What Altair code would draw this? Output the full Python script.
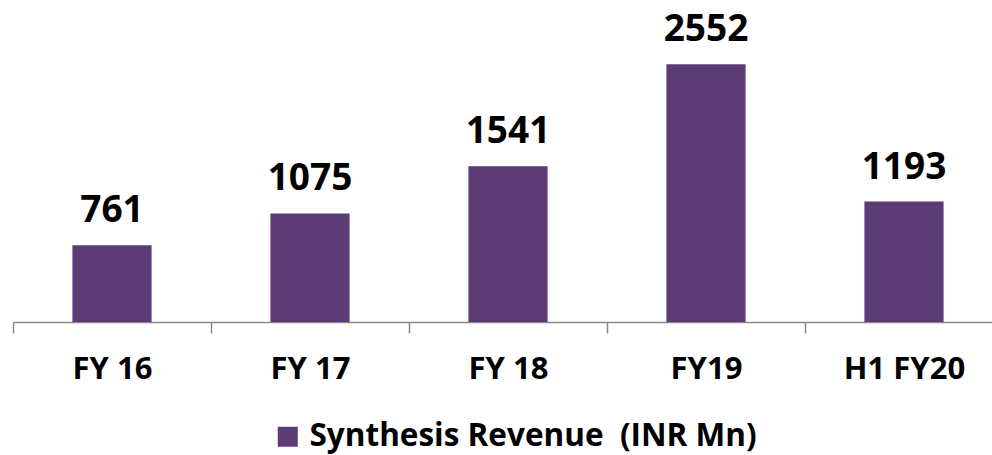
import altair as alt
import pandas as pd

categories = ["FY 16", "FY 17", "FY 18", "FY19", "H1 FY20"]
values = [761, 1075, 1541, 2552, 1193]
series = "Synthesis Revenue \u00a0(INR Mn)"

df = pd.DataFrame({"cat": categories, "val": values, "series": [series] * len(categories)})

FONT = "Open Sans"
COLOR = "#5B3C74"

x = alt.X("cat:N", sort=categories, title=None,
          scale=alt.Scale(range=[0, 990], paddingInner=0, paddingOuter=0),
          axis=alt.Axis(labelAngle=0, labelFont=FONT, labelFontSize=31, labelFontWeight="bold",
                        labelColor="#000000", labelPadding=21, tickBand="extent",
                        tickSize=11, tickColor="#8A8A8A", tickWidth=1.5,
                        domainColor="#8A8A8A", domainWidth=1.5))
y = alt.Y("val:Q", title=None, scale=alt.Scale(domain=[0, 3000]), axis=None)

bars = alt.Chart(df).mark_bar(width=alt.RelativeBandSize(0.4), color=COLOR).encode(
    x=x, y=y,
    color=alt.Color("series:N", scale=alt.Scale(range=[COLOR]),
                    legend=alt.Legend(title=None, orient="none", legendX=259, legendY=402,
                                      symbolType="square", symbolSize=400, symbolStrokeWidth=0,
                                      labelFont=FONT, labelFontSize=31.5, labelFontWeight="bold",
                                      labelColor="#000000", padding=0, labelLimit=700,
                                      labelOffset=6, symbolOffset=0)))
labels = alt.Chart(df).mark_text(font=FONT, fontSize=37, fontWeight="bold", color="#000000",
                                 baseline="alphabetic", dy=-23).encode(
    x=alt.X("cat:N", sort=categories), y="val:Q", text="val:Q")

chart = alt.layer(bars, labels).properties(
    width=979, height=303,
    autosize=alt.AutoSizeParams(type="none"),
    padding={"left": 13, "top": 19, "right": 0, "bottom": 133},
).configure(background="#ffffff").configure_view(stroke=None)

chart.save("out.html", embed_options={"renderer": "svg", "actions": False})
